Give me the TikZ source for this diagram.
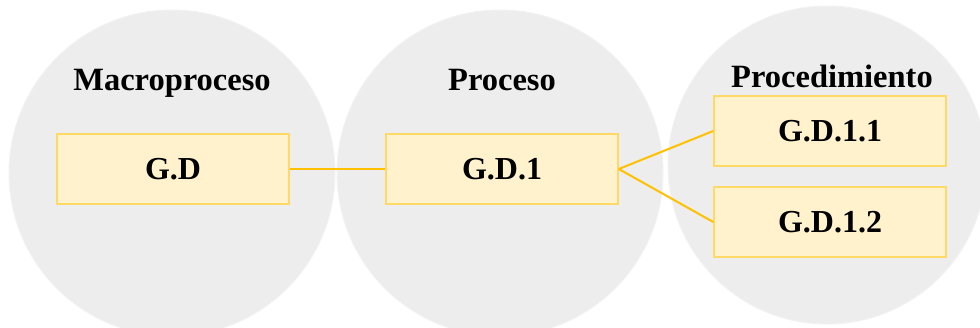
\documentclass[tikz,border=0pt]{standalone}
\usepackage{fontspec}
\setmainfont{Liberation Serif}
\usepackage{tikz}
\usetikzlibrary{positioning}
\tikzset{every node/.append style={align=center}}
\definecolor{ringcolor}{RGB}{237, 237, 237}
\definecolor{boxcolor}{RGB}{255, 242, 204}
\definecolor{boxline}{RGB}{255, 217, 102}
\definecolor{linkcolor}{RGB}{255, 192, 0}

\begin{document}
\begin{tikzpicture}[x=1pt, y=-1pt,
    ring/.style={draw=ringcolor!70!white, line width=1pt, fill=ringcolor},
    level/.style={font=\fontsize{32.5}{36}\selectfont\bfseries, anchor=base},
    item/.style={draw=boxline, line width=1.5pt, fill=boxcolor, minimum width=232pt, minimum height=70pt, inner sep=0pt, font=\fontsize{32}{36}\selectfont\bfseries},
    link/.style={draw=linkcolor, line width=2pt}
]
    \useasboundingbox (0,0) rectangle (980,327);

    % Circles
    \fill[ring] (172,173) circle (163);
    \fill[ring] (500,173) circle (163);
    \fill[ring] (827,165) circle (159);

    % Levels
    \node[level] (macro) at (172,90) {Macroproceso};
    \node[level] (proc) at (502,90) {Proceso};
    \node[level] (proced) at (832,87) {Procedimiento};

    % Items
    \node[item] (gd) at (173,169) {G.D};
    \node[item] (gd1) at (502,169) {G.D.1};
    \node[item] (gd11) at (830,131) {G.D.1.1};
    \node[item] (gd12) at (830,222) {G.D.1.2};

    % Links
    \draw[link] (gd.east) -- (gd1.west);
    \draw[link] (gd1.east) -- (gd11.west);
    \draw[link] (gd1.east) -- (gd12.west);

\end{tikzpicture}
\end{document}
